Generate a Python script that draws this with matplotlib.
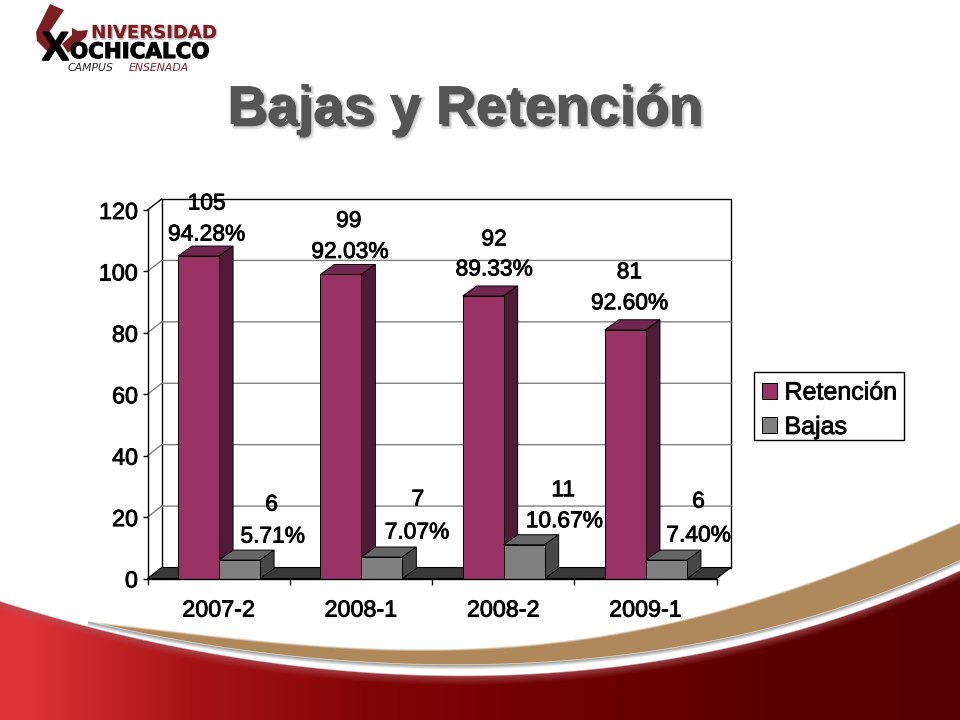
# plot.py - Bajas y Retencion slide

import numpy as np
import matplotlib
matplotlib.use("Agg")
import matplotlib.pyplot as plt
import matplotlib.patheffects as pe
from matplotlib.patches import Polygon, Rectangle

plt.rcParams["font.family"] = ["Liberation Sans", "DejaVu Sans"]

# data
categories = ["2007-2", "2008-1", "2008-2", "2009-1"]
retencion = [105, 99, 92, 81]
bajas = [6, 7, 11, 6]
retencion_pct = ["94.28%", "92.03%", "89.33%", "92.60%"]
bajas_pct = ["5.71%", "7.07%", "10.67%", "7.40%"]
y_ticks = [0, 20, 40, 60, 80, 100, 120]

# label offsets from the bar top centre, in pixels (count, percent)
ret_count_off = [(8, 53), (8, 54), (11, 57), (4, 58)]
ret_pct_off = [(8, 22), (9, 23), (11, 27), (4, 27)]
baj_count_off = [(32, 56), (36, 58), (39, 55), (32, 59)]
baj_pct_off = [(33, 24), (35, 25), (40, 24), (32, 25)]

W, H = 960, 720
fig = plt.figure(figsize=(W / 100, H / 100), dpi=100, facecolor="white")


def curve(pts, xs):
    p = np.array(pts, dtype=float)
    return np.polyval(np.polyfit(p[:, 0], p[:, 1], 4), xs)


# background: red band and brown swoosh
xs = np.arange(W) + 0.5
yy = (np.arange(H) + 0.5)[:, None]
red_top = curve([(0, 601), (122, 633), (245, 660), (441, 674), (674, 658), (796, 630), (960, 570)], xs)
sw_top = curve([(88, 621), (245, 639), (392, 648), (600, 636), (760, 598), (960, 522)], xs)
sw_bot = curve([(88, 621), (245, 650), (441, 665), (640, 652), (800, 620), (960, 560)], xs)

img = np.ones((H, W, 3))

# swoosh, soft upper edge, grey shadow underneath
brown = np.array([0.69, 0.54, 0.36])
shadow = np.clip((yy - sw_bot[None, :]) / 1.0, 0, 1) * np.clip(1 - (yy - sw_bot[None, :]) / 5, 0, 1)
shadow = shadow * (xs > 88)[None, :]
img = img * (1 - 0.45 * shadow[..., None])
cover = np.clip((yy - sw_top[None, :]) / 2.5, 0, 1) * np.clip((sw_bot[None, :] - yy) / 1.5 + 0.5, 0, 1)
cover = cover * (xs > 88)[None, :]
img = img * (1 - cover[..., None]) + brown * cover[..., None]

# red gradient, left to right, with a paler rim on top
stops_x = [0, 30, 184, 367, 551, 796, 960]
stops_c = np.array([[0.87, 0.20, 0.22], [0.87, 0.20, 0.22], [0.66, 0.08, 0.09],
                    [0.51, 0.02, 0.02], [0.44, 0, 0], [0.35, 0, 0], [0.33, 0, 0]])
base = np.stack([np.interp(xs, stops_x, stops_c[:, i]) for i in range(3)], axis=1)
d = yy - red_top[None, :]
rim = np.clip(1 - d / 10, 0, 1)[..., None]
red = base[None, :, :] * (1 - rim * 0.8) + np.array([0.66, 0.33, 0.36]) * rim * 0.8
mask = np.clip(d / 1.5, 0, 1)[..., None]
img = img * (1 - mask) + red * mask

bg = fig.add_axes([0, 0, 1, 1], zorder=0)
bg.imshow(img, extent=[0, W, H, 0], aspect="auto", interpolation="bilinear")
bg.set_xlim(0, W)
bg.set_ylim(H, 0)
bg.axis("off")

# logo
logo_red = "#7c1f23"
logo_font = ["DejaVu Sans"]
bg.add_patch(Polygon([(50, 4), (64, 10), (52, 28), (46, 36), (60, 50), (48, 52), (37, 41), (36, 32)],
                     closed=True, fc=logo_red, ec="none"))
bg.add_patch(Polygon([(72, 28), (78, 31), (88, 30), (86, 37), (76, 45), (68, 53), (62, 44), (72, 35)],
                     closed=True, fc=logo_red, ec="none"))
bg.text(91, 38, "NIVERSIDAD", color=logo_red, fontsize=13, fontweight="bold", family=logo_font,
        ha="left", va="baseline",
        path_effects=[pe.Stroke(linewidth=1.2, foreground="#cccccc", offset=(0.8, -0.8)), pe.Normal()])
bg.text(70, 58, "OCHICALCO", color="black", fontsize=15.4, fontweight="bold", family=logo_font,
        ha="left", va="baseline",
        path_effects=[pe.Stroke(linewidth=0.8, foreground="black"), pe.Normal()])
bg.text(42, 60, "X", color="black", fontsize=29, fontweight="bold", ha="left", va="baseline",
        path_effects=[pe.Stroke(linewidth=1.2, foreground="black"), pe.Normal()])
bg.text(68, 71, "CAMPUS", color="#222222", fontsize=7.8, style="italic", family=logo_font, ha="left", va="baseline")
bg.text(129, 71, "ENSENADA", color=logo_red, fontsize=7.8, style="italic", family=logo_font, ha="left", va="baseline")

# title
bg.text(227, 124, "Bajas y Retención", color="#555555", fontsize=39.7, fontweight="bold",
        ha="left", va="baseline",
        path_effects=[pe.Stroke(linewidth=2.5, foreground="#e2e2e2", offset=(2.5, -2.5)),
                      pe.Stroke(linewidth=0.8, foreground="#c4c4c4", offset=(2, -2)),
                      pe.Normal()])

# legend frame, the legend itself sits on top without one
bg.add_patch(Rectangle((754, 372), 150, 68, fc="white", ec="black", lw=1.0))

# chart axes: front plane of the 3D box
x0, x1, y0, y1 = 147.5, 716.7, 578.5, 210.0
ax = fig.add_axes([x0 / W, 1 - y0 / H, (x1 - x0) / W, (y0 - y1) / H], zorder=1)
ax.patch.set_alpha(0)
ax.set_xlim(0, 4)
ax.set_ylim(0, 120)
for side in ["top", "right"]:
    ax.spines[side].set_visible(False)
for side in ["left", "bottom"]:
    ax.spines[side].set_linewidth(1.0)
    ax.spines[side].set_zorder(6)

px_x = (x1 - x0) / 4  # pixels per category
px_y = (y0 - y1) / 120  # pixels per unit
wall_dx, wall_dy = 14.2 / px_x, 11 / px_y
bar_dx, bar_dy = 14 / px_x, 10 / px_y
bar_w = 41 / px_x
shift = 0.4 / px_x

# back wall, grid and floor
ax.add_patch(Polygon([(wall_dx, wall_dy), (4 + wall_dx, wall_dy), (4 + wall_dx, 120 + wall_dy), (wall_dx, 120 + wall_dy)],
                     closed=True, fc="white", ec="black", lw=1.0, clip_on=False, zorder=1))
ax.plot([0, wall_dx], [120, 120 + wall_dy], color="black", lw=1.0, clip_on=False, zorder=1)
for t in y_ticks[1:-1]:
    ax.plot([0, wall_dx, 4 + wall_dx], [t, t + wall_dy, t + wall_dy], color="#808080", lw=1.0, clip_on=False, zorder=1.5)
ax.add_patch(Polygon([(0, 0), (4, 0), (4 + wall_dx, wall_dy), (wall_dx, wall_dy)],
                     closed=True, fc="#383838", ec="black", lw=0.8, clip_on=False, zorder=2))


def box_sides(left, value, top_col, side_col, z):
    right = left + bar_w
    ax.add_patch(Polygon([(left, value), (right, value), (right + bar_dx, value + bar_dy), (left + bar_dx, value + bar_dy)],
                         closed=True, fc=top_col, ec="black", lw=0.7, clip_on=False, zorder=z))
    ax.add_patch(Polygon([(right, 0), (right + bar_dx, bar_dy), (right + bar_dx, value + bar_dy), (right, value)],
                         closed=True, fc=side_col, ec="black", lw=0.7, clip_on=False, zorder=z))


pos = np.arange(len(categories)) + 0.5
ret_left = pos - bar_w + shift
baj_left = pos + shift

# bajas sit in front of the retention side face
bars_ret = ax.bar(ret_left, retencion, bar_w, align="edge", color="#993366", edgecolor="black", linewidth=0.7,
                  zorder=3.2, label="Retención")
bars_baj = ax.bar(baj_left, bajas, bar_w, align="edge", color="#808080", edgecolor="black", linewidth=0.7,
                  zorder=3.6, label="Bajas")
for i in range(len(categories)):
    box_sides(ret_left[i], retencion[i], "#702850", "#4f1c38", 3.1)
    box_sides(baj_left[i], bajas[i], "#666666", "#474747", 3.5)

label_fx = [pe.Stroke(linewidth=0.6, foreground="black"), pe.Normal()]
for i in range(len(categories)):
    cr = ret_left[i] + bar_w / 2
    cb = baj_left[i] + bar_w / 2
    for xval, yval, txt, off in [(cr, retencion[i], str(retencion[i]), ret_count_off[i]),
                                 (cr, retencion[i], retencion_pct[i], ret_pct_off[i]),
                                 (cb, bajas[i], str(bajas[i]), baj_count_off[i]),
                                 (cb, bajas[i], bajas_pct[i], baj_pct_off[i])]:
        ax.annotate(txt, (xval, yval), xytext=off, textcoords="offset pixels", ha="center", va="center",
                    fontsize=16.4, color="black", zorder=8, annotation_clip=False, path_effects=label_fx)

# axis ticks
ax.set_yticks(y_ticks)
ax.set_yticklabels([str(t) for t in y_ticks], fontsize=16.8, path_effects=label_fx)
ax.tick_params(axis="y", length=3.8, width=1.0, pad=3)
ax.set_xticks(range(5))
ax.set_xticklabels([])
ax.tick_params(axis="x", which="major", length=4, width=1.0)
ax.set_xticks(pos, minor=True)
ax.set_xticklabels(categories, minor=True, fontsize=16.8, path_effects=label_fx)
ax.tick_params(axis="x", which="minor", length=0, pad=14.5)

# legend
leg = ax.legend(handles=[bars_ret, bars_baj], loc="upper left", bbox_to_anchor=(754 / W, 1 - 373 / H),
                bbox_transform=fig.transFigure, fontsize=18, frameon=False, borderaxespad=0, borderpad=0.3,
                handlelength=0.6, handleheight=0.6, handletextpad=0.32, labelspacing=0.42)
leg.set_zorder(9)
for t in leg.get_texts():
    t.set_path_effects(label_fx)

fig.savefig("out.png", dpi=100)
